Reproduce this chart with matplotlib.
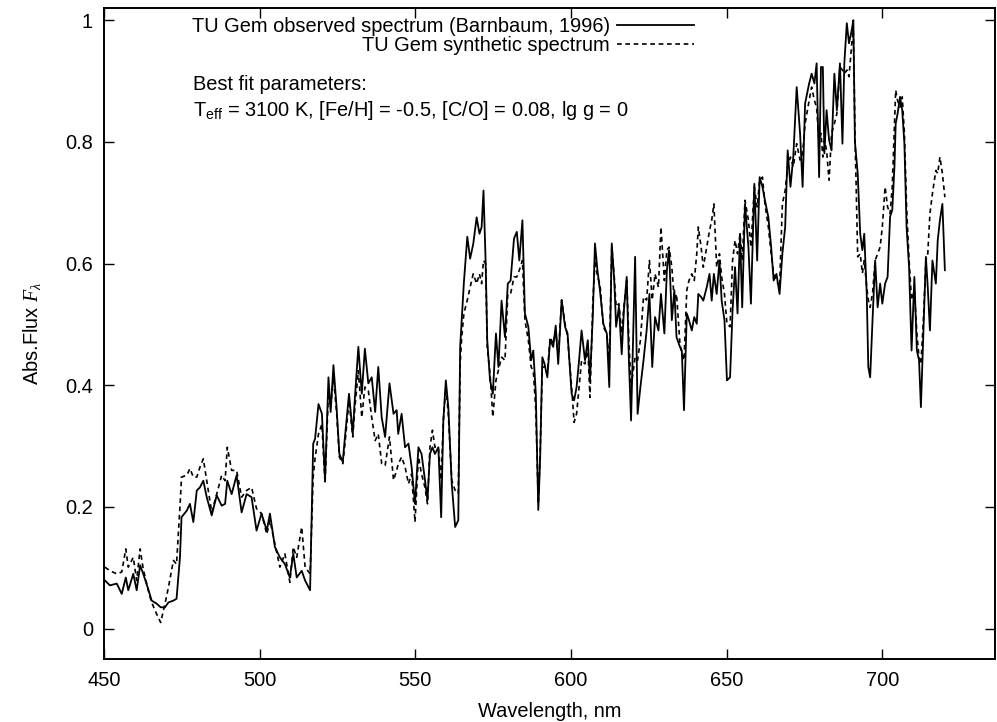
import matplotlib

matplotlib.use("Agg")
import matplotlib.pyplot as plt

# wavelength grid (nm), shared by both spectra
wavelength = [
    450.3, 451.9, 454.1, 455.7, 457.0, 457.8, 459.4, 460.5, 461.6, 462.6,
    464.2, 465.3, 466.9, 468.2, 469.6, 470.7, 472.3, 473.3, 474.4, 474.9,
    476.6, 477.6, 478.7, 479.8, 480.8, 481.9, 483.0, 484.6, 486.2, 487.8,
    488.9, 489.6, 491.0, 492.6, 494.2, 495.8, 497.4, 499.0, 500.6, 502.3,
    503.3, 504.9, 506.5, 508.1, 509.7, 510.8, 511.9, 513.5, 514.6, 516.2,
    517.2, 517.8, 518.9, 520.0, 521.0, 522.1, 522.8, 523.7, 524.7, 525.6,
    526.7, 527.4, 528.7, 529.9, 530.6, 531.7, 532.8, 533.8, 534.9, 536.0,
    537.1, 538.1, 539.2, 540.3, 541.7, 543.0, 544.0, 544.5, 545.6, 546.7,
    547.8, 548.8, 549.9, 551.0, 552.0, 553.1, 553.9, 554.7, 555.5, 556.3,
    557.4, 558.3, 559.0, 559.8, 560.6, 561.7, 562.8, 563.8, 564.4, 564.9,
    565.6, 566.7, 567.6, 568.6, 569.7, 570.6, 571.3, 571.9, 572.6, 573.1,
    574.0, 574.9, 575.9, 576.7, 577.7, 578.8, 579.7, 580.6, 581.7, 582.6,
    583.4, 584.4, 585.2, 586.3, 587.2, 587.9, 588.7, 589.5, 590.1, 590.8,
    591.5, 592.4, 593.3, 594.3, 595.1, 595.9, 597.0, 598.1, 598.9, 600.2,
    601.0, 601.8, 602.6, 603.4, 604.5, 605.4, 606.1, 607.0, 607.7, 608.5,
    609.3, 610.4, 611.5, 612.3, 613.1, 613.9, 614.5, 615.4, 616.3, 617.0,
    617.9, 618.6, 619.3, 620.6, 621.4, 622.3, 623.3, 624.3, 625.2, 626.1,
    627.0, 628.1, 628.9, 630.0, 630.8, 631.5, 632.4, 633.2, 633.9, 635.0,
    635.6, 636.3, 637.2, 637.9, 638.8, 639.6, 640.4, 640.9, 641.8, 642.5,
    643.6, 644.5, 645.2, 645.9, 646.8, 647.7, 648.4, 649.3, 650.1, 651.1,
    651.9, 652.7, 653.5, 654.3, 655.0, 655.9, 657.0, 657.8, 658.9, 659.8,
    660.6, 661.5, 662.3, 663.4, 664.3, 665.1, 666.0, 667.0, 667.9, 668.8,
    669.6, 670.5, 671.4, 672.5, 673.6, 674.4, 675.2, 676.5, 677.3, 678.2,
    678.9, 679.7, 680.3, 680.9, 681.4, 682.1, 682.9, 683.7, 684.6, 685.4,
    686.4, 687.2, 687.8, 688.6, 689.3, 690.2, 690.7, 691.2, 692.1, 692.9,
    693.6, 694.2, 695.0, 695.5, 696.1, 696.9, 697.7, 698.5, 699.3, 700.0,
    700.9, 701.7, 702.5, 703.2, 703.9, 704.3, 704.9, 705.7, 706.4, 707.1,
    707.8, 708.6, 709.4, 710.3, 711.1, 711.8, 712.4, 713.2, 714.0, 714.6,
    715.3, 716.1, 717.2, 717.8, 718.5, 719.3, 720.1,
]

# observed spectrum (Barnbaum, 1996), solid line
observed = [
    0.079, 0.071, 0.074, 0.057, 0.084, 0.063, 0.090, 0.063, 0.104, 0.090,
    0.065, 0.046, 0.041, 0.035, 0.035, 0.043, 0.046, 0.049, 0.117, 0.183,
    0.194, 0.205, 0.175, 0.227, 0.232, 0.243, 0.216, 0.186, 0.219, 0.202,
    0.205, 0.243, 0.221, 0.252, 0.191, 0.221, 0.216, 0.161, 0.189, 0.161,
    0.189, 0.134, 0.117, 0.106, 0.084, 0.123, 0.084, 0.095, 0.079, 0.063,
    0.304, 0.312, 0.369, 0.353, 0.243, 0.413, 0.356, 0.433, 0.364, 0.287,
    0.274, 0.315, 0.386, 0.320, 0.380, 0.463, 0.386, 0.460, 0.403, 0.413,
    0.356, 0.430, 0.347, 0.315, 0.403, 0.353, 0.359, 0.320, 0.353, 0.298,
    0.304, 0.266, 0.205, 0.298, 0.287, 0.244, 0.211, 0.287, 0.298, 0.287,
    0.298, 0.183, 0.342, 0.408, 0.364, 0.238, 0.167, 0.178, 0.463, 0.507,
    0.569, 0.644, 0.608, 0.632, 0.676, 0.649, 0.660, 0.720, 0.600, 0.474,
    0.408, 0.386, 0.485, 0.430, 0.539, 0.479, 0.567, 0.572, 0.641, 0.652,
    0.605, 0.671, 0.518, 0.496, 0.441, 0.457, 0.386, 0.195, 0.280, 0.446,
    0.435, 0.413, 0.474, 0.463, 0.498, 0.435, 0.540, 0.496, 0.485, 0.386,
    0.375, 0.397, 0.441, 0.490, 0.441, 0.474, 0.408, 0.512, 0.633, 0.589,
    0.556, 0.501, 0.485, 0.397, 0.633, 0.572, 0.496, 0.529, 0.451, 0.523,
    0.578, 0.441, 0.342, 0.611, 0.353, 0.397, 0.441, 0.490, 0.550, 0.430,
    0.512, 0.490, 0.550, 0.485, 0.589, 0.622, 0.507, 0.556, 0.479, 0.463,
    0.457, 0.359, 0.518, 0.507, 0.490, 0.512, 0.501, 0.550, 0.545, 0.539,
    0.561, 0.583, 0.539, 0.583, 0.550, 0.605, 0.539, 0.507, 0.408, 0.413,
    0.523, 0.594, 0.518, 0.649, 0.528, 0.698, 0.627, 0.534, 0.731, 0.605,
    0.742, 0.726, 0.704, 0.676, 0.627, 0.572, 0.583, 0.550, 0.616, 0.660,
    0.786, 0.726, 0.775, 0.890, 0.813, 0.726, 0.863, 0.896, 0.912, 0.896,
    0.929, 0.742, 0.923, 0.923, 0.781, 0.852, 0.803, 0.786, 0.912, 0.852,
    0.929, 0.797, 0.929, 0.995, 0.962, 0.984, 1.000, 0.800, 0.748, 0.649,
    0.622, 0.649, 0.550, 0.430, 0.413, 0.512, 0.605, 0.528, 0.567, 0.534,
    0.567, 0.578, 0.677, 0.688, 0.759, 0.830, 0.846, 0.874, 0.852, 0.797,
    0.660, 0.594, 0.457, 0.578, 0.457, 0.441, 0.364, 0.485, 0.611, 0.561,
    0.490, 0.605, 0.567, 0.638, 0.671, 0.698, 0.589,
]

# best-fit synthetic spectrum, dashed line
synthetic = [
    0.101, 0.095, 0.090, 0.093, 0.131, 0.101, 0.117, 0.079, 0.131, 0.098,
    0.063, 0.043, 0.024, 0.010, 0.041, 0.068, 0.112, 0.106, 0.200, 0.249,
    0.252, 0.263, 0.249, 0.249, 0.265, 0.279, 0.243, 0.191, 0.221, 0.252,
    0.243, 0.298, 0.260, 0.260, 0.216, 0.227, 0.232, 0.197, 0.189, 0.155,
    0.178, 0.139, 0.101, 0.123, 0.076, 0.134, 0.117, 0.167, 0.101, 0.090,
    0.250, 0.280, 0.320, 0.336, 0.238, 0.391, 0.364, 0.413, 0.356, 0.282,
    0.271, 0.304, 0.375, 0.315, 0.364, 0.424, 0.347, 0.397, 0.391, 0.347,
    0.309, 0.320, 0.271, 0.268, 0.315, 0.244, 0.260, 0.270, 0.282, 0.266,
    0.238, 0.254, 0.175, 0.282, 0.254, 0.232, 0.205, 0.298, 0.326, 0.298,
    0.298, 0.244, 0.342, 0.397, 0.353, 0.244, 0.227, 0.222, 0.435, 0.479,
    0.518, 0.540, 0.561, 0.583, 0.567, 0.583, 0.567, 0.605, 0.600, 0.463,
    0.419, 0.348, 0.408, 0.425, 0.446, 0.441, 0.550, 0.550, 0.578, 0.578,
    0.589, 0.605, 0.507, 0.474, 0.430, 0.424, 0.359, 0.205, 0.290, 0.430,
    0.430, 0.419, 0.479, 0.468, 0.490, 0.446, 0.540, 0.501, 0.479, 0.397,
    0.339, 0.353, 0.397, 0.441, 0.435, 0.463, 0.380, 0.534, 0.605, 0.578,
    0.567, 0.496, 0.485, 0.441, 0.627, 0.578, 0.529, 0.534, 0.485, 0.529,
    0.572, 0.474, 0.397, 0.446, 0.441, 0.474, 0.545, 0.540, 0.605, 0.540,
    0.583, 0.561, 0.660, 0.572, 0.622, 0.627, 0.594, 0.539, 0.550, 0.468,
    0.452, 0.441, 0.556, 0.572, 0.583, 0.572, 0.616, 0.660, 0.627, 0.594,
    0.627, 0.654, 0.671, 0.698, 0.594, 0.616, 0.578, 0.550, 0.501, 0.496,
    0.605, 0.638, 0.616, 0.649, 0.605, 0.704, 0.671, 0.627, 0.726, 0.693,
    0.737, 0.742, 0.698, 0.660, 0.616, 0.583, 0.572, 0.561, 0.698, 0.720,
    0.759, 0.775, 0.759, 0.797, 0.770, 0.781, 0.830, 0.868, 0.890, 0.868,
    0.857, 0.797, 0.814, 0.775, 0.803, 0.786, 0.737, 0.814, 0.830, 0.846,
    0.923, 0.918, 0.912, 0.918, 0.907, 0.962, 0.984, 0.820, 0.611, 0.616,
    0.584, 0.605, 0.561, 0.540, 0.528, 0.553, 0.605, 0.616, 0.627, 0.660,
    0.726, 0.693, 0.682, 0.726, 0.830, 0.885, 0.868, 0.857, 0.874, 0.814,
    0.693, 0.605, 0.540, 0.556, 0.485, 0.446, 0.435, 0.507, 0.605, 0.616,
    0.682, 0.715, 0.753, 0.748, 0.775, 0.748, 0.709,
]

x_ticks = [450, 500, 550, 600, 650, 700]
y_ticks = [0, 0.2, 0.4, 0.6, 0.8, 1]
y_tick_labels = ["0", "0.2", "0.4", "0.6", "0.8", "1"]

plt.rcParams["font.family"] = ["Liberation Sans", "DejaVu Sans"]
plt.rcParams["font.size"] = 14.4
plt.rcParams["mathtext.fontset"] = "custom"
plt.rcParams["mathtext.rm"] = "Liberation Sans"
plt.rcParams["mathtext.it"] = "Liberation Serif:italic"

fig = plt.figure(figsize=(9.97, 7.22), dpi=100)
ax = fig.add_axes([104 / 997, 1 - 659 / 722, (995 - 104) / 997, (659 - 8) / 722])

ax.plot(wavelength, observed, color="black", lw=1.3, ls="-",
        label="TU Gem observed spectrum (Barnbaum, 1996)")
ax.plot(wavelength, synthetic, color="black", lw=1.2, ls=(0, (2.8, 2.2)),
        label="TU Gem synthetic spectrum")

ax.set_xlim(450, 736.2)
ax.set_ylim(-0.05, 1.02)
ax.set_xticks(x_ticks)
ax.set_yticks(y_ticks)
ax.set_yticklabels(y_tick_labels)
ax.tick_params(direction="in", length=7, width=1.0, top=True, right=True)
ax.tick_params(axis="y", pad=8)
ax.tick_params(axis="x", pad=9)
for sp in ax.spines.values():
    sp.set_linewidth(1.4)

ax.set_xlabel("Wavelength, nm", labelpad=8)
ax.set_ylabel(r"Abs.Flux $F_\lambda$", labelpad=16)

ax.legend(loc="upper right", bbox_to_anchor=(694 / 997, 1 - 17 / 722),
          bbox_transform=fig.transFigure, frameon=False, markerfirst=False,
          handlelength=3.85, handletextpad=0.35, labelspacing=0.0,
          borderpad=0, borderaxespad=0)

fig.text(193 / 997, 1 - 85 / 722, "Best fit parameters:", va="center", ha="left")
fig.text(193 / 997, 1 - 111 / 722,
         r"T$_{\rm eff}$ = 3100 K, [Fe/H] = -0.5, [C/O] = 0.08, lg g = 0",
         va="center", ha="left")

fig.savefig("out.png", dpi=100)
